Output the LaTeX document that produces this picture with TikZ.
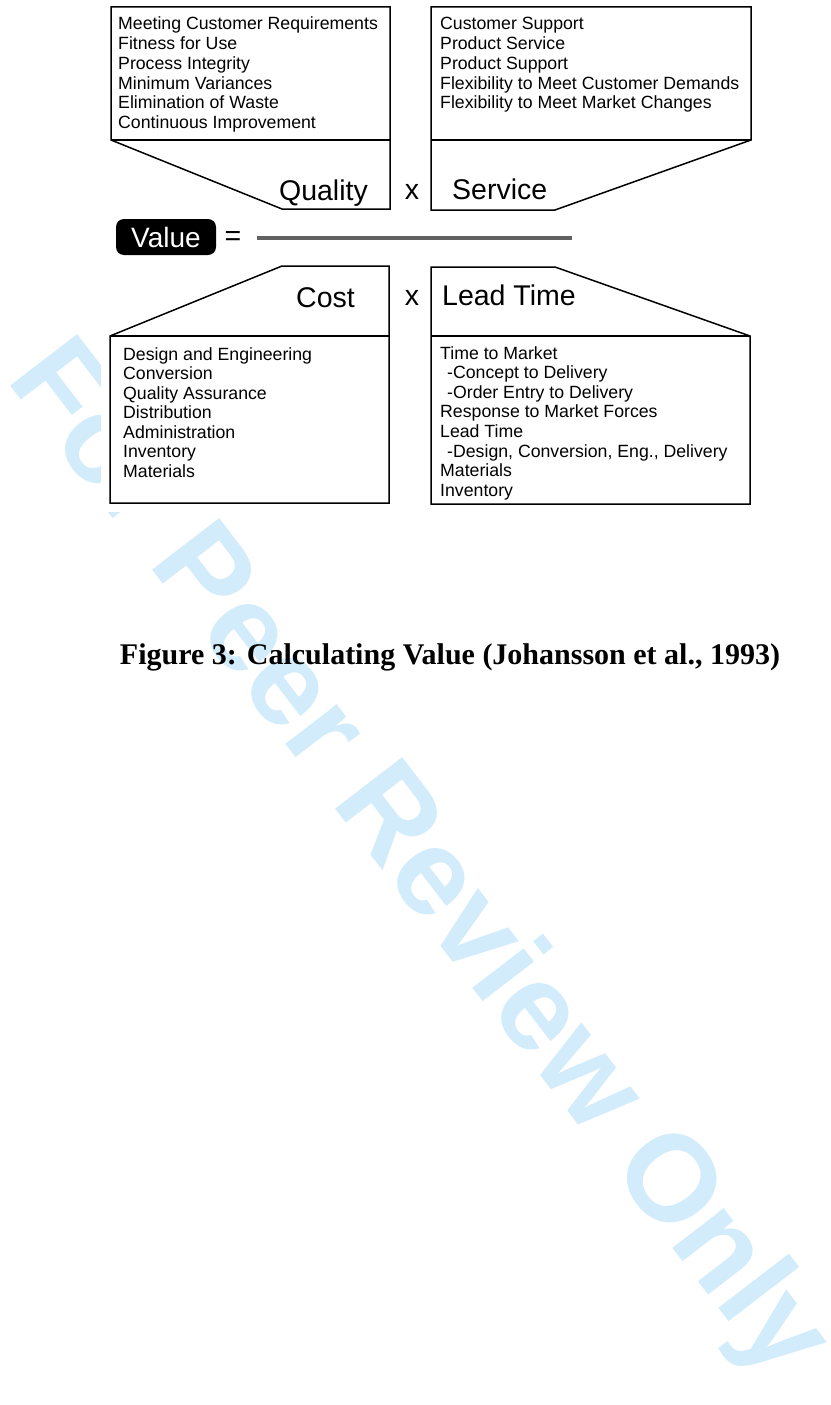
\documentclass[tikz,border=0pt]{standalone}
\usepackage{fontspec}
\setmainfont{Liberation Sans}
\newfontfamily\capfont{Liberation Serif}
\definecolor{wmark}{RGB}{210,236,251}

\begin{document}
\begin{tikzpicture}[x=1pt,y=-1pt,
	box/.style={line width=1.5pt,line join=miter},
	item/.style={anchor=base west,inner sep=0pt,font=\fontsize{17.7}{19.6}\selectfont},
	lbl/.style={inner sep=0pt,font=\fontsize{28.5}{30}\selectfont}]
				\useasboundingbox (0,0) rectangle (830,1405);
				% watermark behind everything, the figure itself is opaque
				\node[text=wmark,rotate=-52.5,inner sep=0pt,font=\bfseries\fontsize{123}{123}\selectfont] (wm) at (416,862) {For Peer Review Only};
				\fill[white] (101,0) rectangle (760,512);
				% quality and service
				\draw[box] (111,7) -- (390,7) -- (390,209) -- (282,209) -- (111,140) -- cycle;
				\draw[box] (111,140) -- (390,140);
				\draw[box] (431,7) -- (751,7) -- (751,140) -- (555,210) -- (431,210) -- cycle;
				\draw[box] (431,140) -- (751,140);
				\foreach \t [count=\i from 0] in {Meeting Customer Requirements, Fitness for Use, Process Integrity, Minimum Variances, Elimination of Waste, Continuous Improvement}
					\node[item] (q\i) at (118,30+19.7*\i) {\t};
				\foreach \t [count=\i from 0] in {Customer Support, Product Service, Product Support, Flexibility to Meet Customer Demands, Flexibility to Meet Market Changes}
					\node[item] (s\i) at (440,30+19.7*\i) {\t};
				\node[lbl,anchor=base east] (quality) at (368,200) {Quality};
				\node[lbl,anchor=base west] (service) at (452,199) {Service};
				\node[lbl,anchor=base] (times1) at (412,199) {x};
				% value line
				\node[fill=black,rounded corners=8pt,minimum width=100pt,minimum height=36pt,inner sep=0pt,text=white,font=\fontsize{28}{30}\selectfont] (value) at (166,237) {Value};
				\node[lbl,anchor=base] (eq) at (233,245) {=};
				\coordinate (barL) at (257,238);
				\coordinate (barR) at (572,238);
				\draw[line width=4.5pt,black!62] (barL) -- (barR);
				% cost and lead time
				\draw[box] (282,266) -- (389,266) -- (389,503) -- (110,503) -- (110,336) -- cycle;
				\draw[box] (110,336) -- (389,336);
				\draw[box] (431,267) -- (555,267) -- (750,336) -- (750,504) -- (431,504) -- cycle;
				\draw[box] (431,336) -- (750,336);
				\node[lbl,anchor=base east] (cost) at (355,307) {Cost};
				\node[lbl,anchor=base west] (lead) at (442,305) {Lead Time};
				\node[lbl,anchor=base] (times2) at (412,305) {x};
				\foreach \t [count=\i from 0] in {Design and Engineering, Conversion, Quality Assurance, Distribution, Administration, Inventory, Materials}
					\node[item] (c\i) at (123,360+19.5*\i) {\t};
				\foreach \t [count=\i from 0] in {Time to Market, \hspace{7pt}-Concept to Delivery, \hspace{7pt}-Order Entry to Delivery, Response to Market Forces, Lead Time, {\hspace{7pt}-Design, Conversion, Eng., Delivery}, Materials, Inventory}
					\node[item] (l\i) at (440,359+19.65*\i) {\t};
				% caption
				\node[anchor=base,inner sep=0pt,font=\capfont\bfseries\fontsize{30}{32}\selectfont] (caption) at (450,664) {Figure 3: Calculating Value (Johansson et al., 1993)};
			\end{tikzpicture}
\end{document}
